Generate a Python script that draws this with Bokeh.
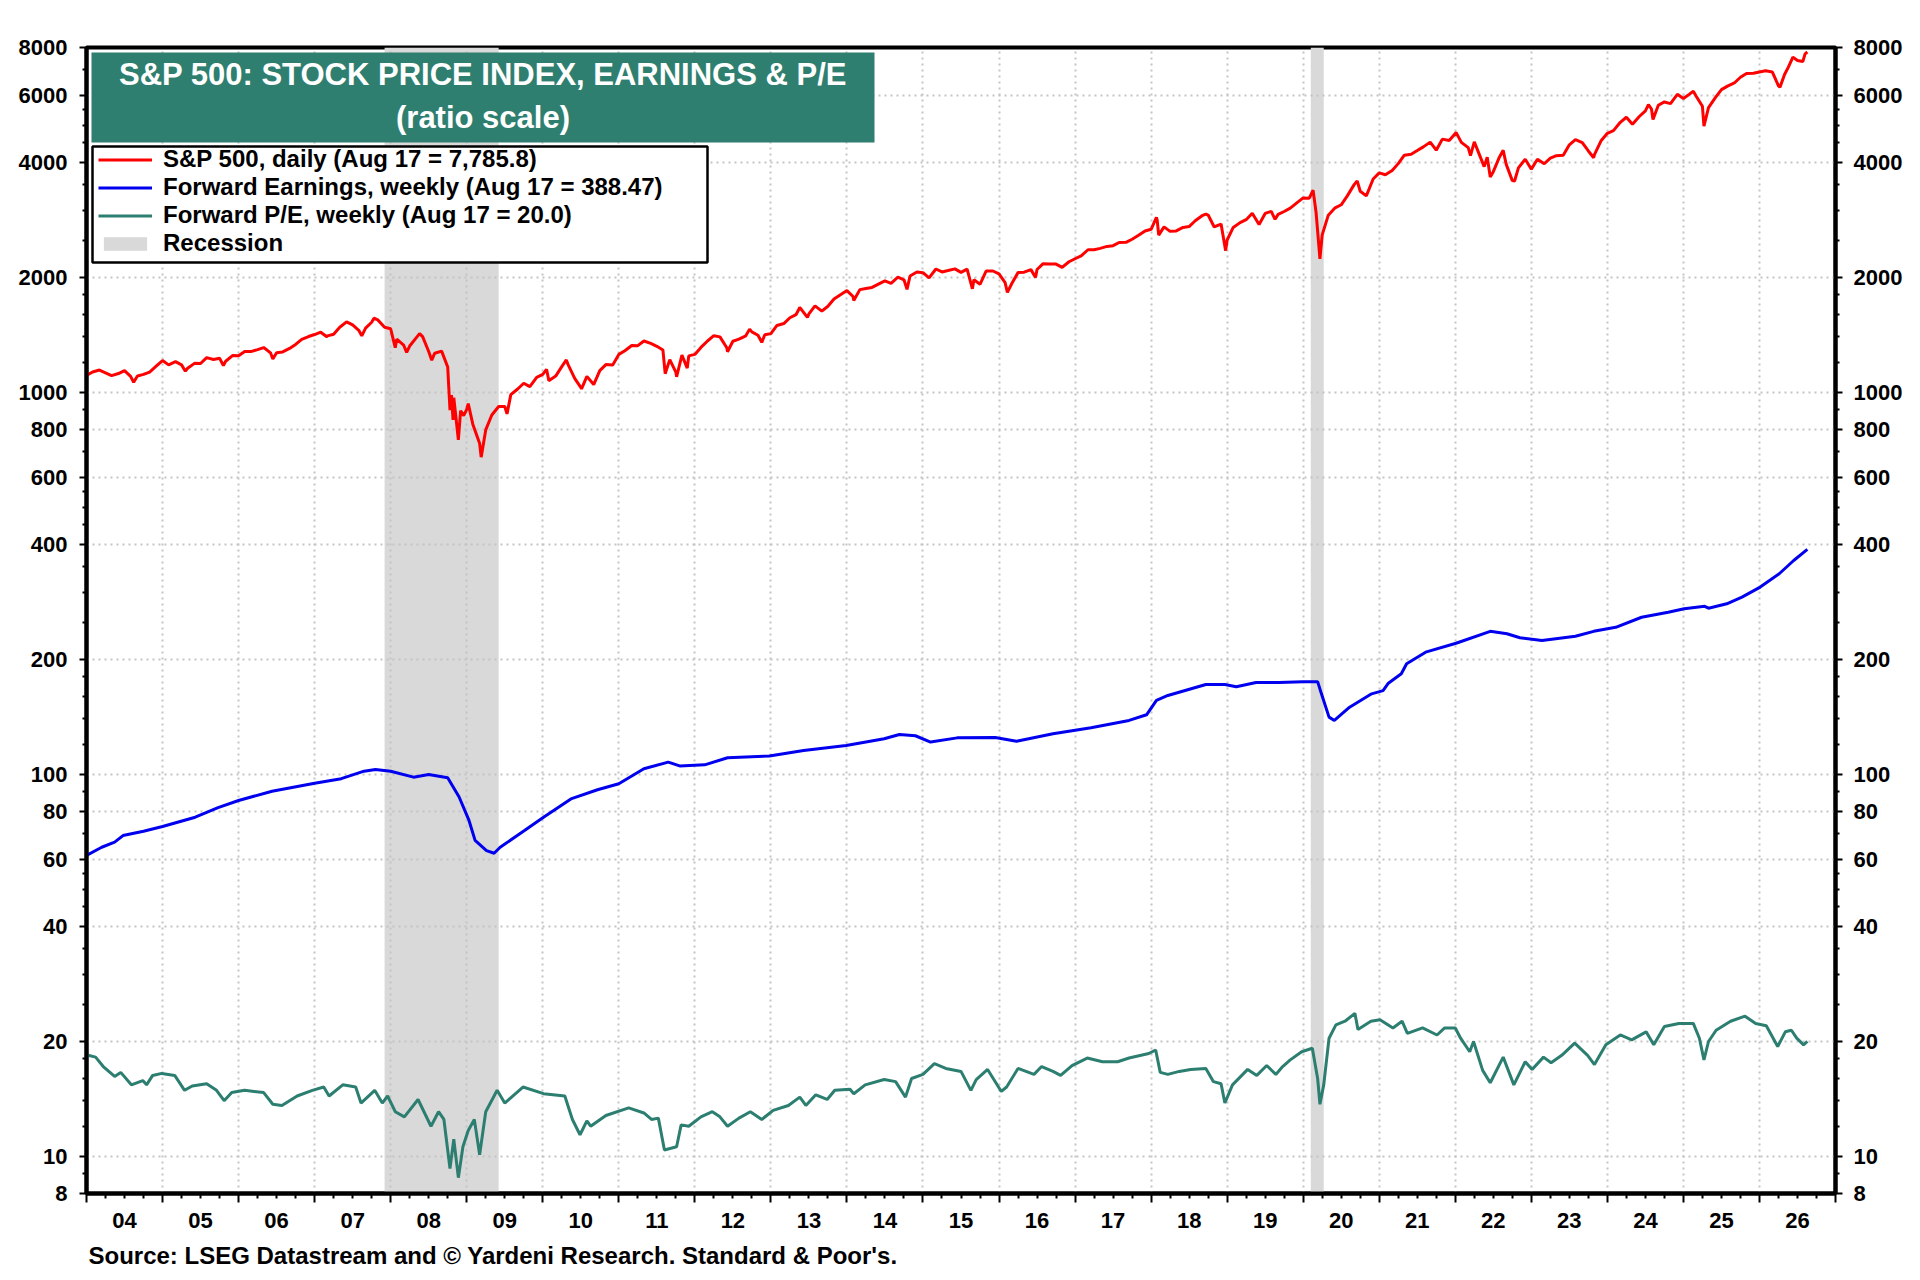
from bokeh.plotting import figure
from bokeh.models import (Range1d, FixedTicker, LogAxis, LinearAxis, Legend, LegendItem,
                          BoxAnnotation, Label, Title, NumeralTickFormatter)
from bokeh.embed import file_html
from bokeh.resources import INLINE

FONT = "Liberation Sans"

# ---------------- data (x = decimal year) ----------------
SPX_T = [2004.00, 2004.08, 2004.17, 2004.25, 2004.33, 2004.42, 2004.50, 2004.58, 2004.62, 2004.67,
         2004.75, 2004.83, 2004.92, 2005.00, 2005.08, 2005.17, 2005.25, 2005.30, 2005.33, 2005.42,
         2005.50, 2005.58, 2005.67, 2005.75, 2005.80, 2005.83, 2005.92, 2006.00, 2006.08, 2006.17,
         2006.25, 2006.33, 2006.42, 2006.45, 2006.50, 2006.58, 2006.67, 2006.75, 2006.83, 2006.92,
         2007.00, 2007.08, 2007.16, 2007.17, 2007.25, 2007.33, 2007.42, 2007.50, 2007.58, 2007.62,
         2007.67, 2007.75, 2007.78, 2007.83, 2007.92, 2008.00, 2008.06, 2008.08, 2008.17, 2008.21,
         2008.25, 2008.33, 2008.38, 2008.42, 2008.50, 2008.54, 2008.58, 2008.67, 2008.75, 2008.78,
         2008.80, 2008.82, 2008.83, 2008.89, 2008.92, 2008.96, 2009.00, 2009.02, 2009.08, 2009.17,
         2009.19, 2009.25, 2009.33, 2009.42, 2009.50, 2009.53, 2009.58, 2009.67, 2009.75, 2009.83,
         2009.92, 2010.00, 2010.05, 2010.08, 2010.17, 2010.25, 2010.31, 2010.33, 2010.42, 2010.50,
         2010.51, 2010.58, 2010.67, 2010.75, 2010.83, 2010.92, 2011.00, 2011.08, 2011.17, 2011.25,
         2011.33, 2011.42, 2011.50, 2011.58, 2011.61, 2011.67, 2011.75, 2011.76, 2011.83, 2011.90,
         2011.92, 2012.00, 2012.08, 2012.17, 2012.25, 2012.33, 2012.42, 2012.43, 2012.50, 2012.58,
         2012.67, 2012.72, 2012.75, 2012.83, 2012.88, 2012.92, 2013.00, 2013.08, 2013.17, 2013.25,
         2013.33, 2013.38, 2013.42, 2013.48, 2013.50, 2013.58, 2013.67, 2013.75, 2013.83, 2013.92,
         2014.00, 2014.08, 2014.09, 2014.17, 2014.25, 2014.33, 2014.42, 2014.50, 2014.58, 2014.67,
         2014.75, 2014.79, 2014.83, 2014.92, 2015.00, 2015.08, 2015.17, 2015.25, 2015.33, 2015.42,
         2015.50, 2015.58, 2015.65, 2015.67, 2015.75, 2015.83, 2015.92, 2016.00, 2016.08, 2016.11,
         2016.17, 2016.25, 2016.33, 2016.42, 2016.48, 2016.50, 2016.58, 2016.67, 2016.75, 2016.83,
         2016.92, 2017.00, 2017.08, 2017.17, 2017.25, 2017.33, 2017.42, 2017.50, 2017.58, 2017.67,
         2017.75, 2017.83, 2017.92, 2018.00, 2018.07, 2018.08, 2018.10, 2018.17, 2018.25, 2018.33,
         2018.42, 2018.50, 2018.58, 2018.67, 2018.72, 2018.75, 2018.83, 2018.92, 2018.98, 2019.00,
         2019.08, 2019.17, 2019.25, 2019.33, 2019.42, 2019.50, 2019.58, 2019.63, 2019.67, 2019.75,
         2019.83, 2019.92, 2020.00, 2020.08, 2020.13, 2020.17, 2020.22, 2020.25, 2020.33, 2020.42,
         2020.50, 2020.58, 2020.67, 2020.71, 2020.75, 2020.83, 2020.92, 2021.00, 2021.08, 2021.17,
         2021.25, 2021.33, 2021.42, 2021.50, 2021.58, 2021.67, 2021.75, 2021.83, 2021.92, 2022.00,
         2022.01, 2022.08, 2022.17, 2022.20, 2022.25, 2022.33, 2022.38, 2022.42, 2022.46, 2022.50,
         2022.58, 2022.63, 2022.67, 2022.75, 2022.78, 2022.83, 2022.92, 2023.00, 2023.08, 2023.17,
         2023.25, 2023.33, 2023.42, 2023.50, 2023.58, 2023.67, 2023.75, 2023.82, 2023.83, 2023.92,
         2024.00, 2024.08, 2024.17, 2024.25, 2024.33, 2024.42, 2024.50, 2024.54, 2024.58, 2024.60,
         2024.67, 2024.75, 2024.83, 2024.92, 2025.00, 2025.08, 2025.13, 2025.17, 2025.25, 2025.27,
         2025.33, 2025.42, 2025.50, 2025.58, 2025.67, 2025.75, 2025.83, 2025.92, 2026.00, 2026.08,
         2026.17, 2026.22, 2026.25, 2026.27, 2026.33, 2026.38, 2026.44, 2026.50, 2026.57, 2026.60,
         2026.63]
SPX_V = [1108, 1131, 1145, 1126, 1107, 1121, 1141, 1102, 1064, 1104,
         1115, 1131, 1174, 1212, 1181, 1204, 1181, 1137, 1157, 1192,
         1191, 1234, 1220, 1229, 1177, 1207, 1249, 1248, 1280, 1281,
         1295, 1311, 1270, 1224, 1270, 1277, 1304, 1336, 1378, 1401,
         1418, 1438, 1399, 1407, 1421, 1482, 1531, 1503, 1455, 1407,
         1474, 1527, 1565, 1549, 1481, 1468, 1310, 1379, 1331, 1273,
         1323, 1386, 1426, 1400, 1280, 1215, 1267, 1283, 1166, 899,
         985, 848, 969, 752, 896, 870, 903, 935, 826, 735,
         677, 798, 873, 919, 919, 879, 987, 1021, 1057, 1036,
         1096, 1115, 1150, 1074, 1104, 1169, 1217, 1187, 1089, 1031,
         1022, 1102, 1049, 1141, 1183, 1181, 1258, 1286, 1327, 1326,
         1364, 1345, 1321, 1292, 1120, 1219, 1131, 1099, 1253, 1158,
         1247, 1258, 1312, 1366, 1408, 1398, 1310, 1278, 1362, 1379,
         1407, 1465, 1441, 1412, 1353, 1416, 1426, 1498, 1515, 1569,
         1598, 1669, 1631, 1573, 1606, 1686, 1633, 1682, 1757, 1806,
         1848, 1783, 1741, 1859, 1872, 1884, 1924, 1960, 1931, 2003,
         1972, 1862, 2018, 2068, 2059, 1995, 2105, 2068, 2086, 2107,
         2063, 2104, 1868, 1972, 1920, 2079, 2080, 2044, 1940, 1829,
         1932, 2060, 2065, 2097, 2001, 2099, 2174, 2171, 2168, 2126,
         2199, 2239, 2279, 2364, 2363, 2384, 2412, 2423, 2470, 2472,
         2519, 2575, 2648, 2674, 2873, 2824, 2581, 2714, 2641, 2648,
         2705, 2718, 2816, 2902, 2931, 2914, 2712, 2760, 2351, 2507,
         2704, 2784, 2834, 2946, 2752, 2942, 2980, 2840, 2926, 2977,
         3038, 3141, 3231, 3226, 3386, 2954, 2237, 2585, 2912, 3044,
         3100, 3271, 3500, 3580, 3363, 3270, 3622, 3756, 3714, 3811,
         3973, 4181, 4204, 4298, 4395, 4523, 4308, 4605, 4567, 4766,
         4797, 4516, 4374, 4170, 4530, 4132, 3901, 4132, 3667, 3785,
         4130, 4305, 3955, 3586, 3577, 3872, 4080, 3840, 4077, 3970,
         4109, 4169, 4180, 4450, 4589, 4508, 4288, 4117, 4194, 4568,
         4770, 4846, 5096, 5254, 5036, 5278, 5460, 5667, 5522, 5186,
         5648, 5762, 5705, 6032, 5882, 6041, 6144, 5955, 5612, 4983,
         5569, 5912, 6205, 6339, 6460, 6688, 6840, 6850, 6900, 6950,
         6900, 6550, 6350, 6300, 6800, 7110, 7550, 7400, 7350, 7700,
         7786]

FE_T = [2004.00, 2004.20, 2004.37, 2004.48, 2004.75, 2005.00, 2005.43, 2005.73, 2006.00, 2006.44,
        2007.00, 2007.35, 2007.65, 2007.80, 2008.00, 2008.30, 2008.50, 2008.75, 2008.90, 2009.03,
        2009.11, 2009.26, 2009.36, 2009.44, 2009.76, 2010.01, 2010.37, 2010.72, 2011.00, 2011.33,
        2011.65, 2011.80, 2012.13, 2012.43, 2012.98, 2013.43, 2013.99, 2014.49, 2014.69, 2014.90,
        2015.10, 2015.45, 2015.95, 2016.23, 2016.71, 2017.21, 2017.71, 2017.94, 2018.07, 2018.22,
        2018.72, 2018.97, 2019.12, 2019.38, 2019.68, 2020.00, 2020.19, 2020.24, 2020.34, 2020.41,
        2020.61, 2020.90, 2021.05, 2021.12, 2021.29, 2021.36, 2021.61, 2022.01, 2022.46, 2022.68,
        2022.85, 2023.14, 2023.58, 2023.82, 2024.11, 2024.45, 2024.80, 2025.01, 2025.28, 2025.33,
        2025.57, 2025.77, 2026.01, 2026.26, 2026.45, 2026.63]
FE_V = [61.4, 64.5, 66.5, 69.2, 71.0, 73.1, 77.3, 81.9, 85.5, 90.4,
        94.9, 97.5, 102.0, 103.0, 102.0, 98.4, 100.0, 98.0, 87.3, 75.8,
        67.2, 63.2, 62.2, 64.5, 71.3, 77.3, 86.3, 91.2, 94.6, 103.5,
        107.7, 105.3, 106.0, 110.6, 111.8, 115.6, 119.1, 124.0, 127.2, 126.3,
        121.6, 124.7, 125.0, 122.2, 127.8, 132.5, 138.5, 143.3, 156.3, 161.0,
        172.0, 172.0, 169.7, 174.0, 174.0, 175.0, 175.0, 162.6, 141.3, 138.5,
        150.0, 162.6, 165.8, 173.4, 183.5, 195.0, 209.0, 220.6, 237.0, 233.6,
        228.0, 224.3, 230.0, 237.0, 242.8, 258.0, 265.9, 271.4, 275.6, 272.5,
        279.8, 291.2, 309.4, 335.3, 363.2, 388.47]

PE_T = [2004.02, 2004.12, 2004.22, 2004.37, 2004.45, 2004.59, 2004.74, 2004.79, 2004.87, 2004.99,
        2005.16, 2005.29, 2005.39, 2005.58, 2005.71, 2005.81, 2005.91, 2006.08, 2006.33, 2006.45,
        2006.57, 2006.77, 2006.97, 2007.12, 2007.19, 2007.37, 2007.54, 2007.61, 2007.79, 2007.89,
        2007.96, 2008.06, 2008.18, 2008.36, 2008.53, 2008.63, 2008.70, 2008.78, 2008.83, 2008.89,
        2008.95, 2009.02, 2009.10, 2009.17, 2009.25, 2009.40, 2009.50, 2009.74, 2010.01, 2010.29,
        2010.39, 2010.49, 2010.58, 2010.63, 2010.83, 2011.13, 2011.33, 2011.43, 2011.52, 2011.60,
        2011.76, 2011.82, 2011.92, 2012.08, 2012.23, 2012.33, 2012.43, 2012.58, 2012.73, 2012.88,
        2013.03, 2013.23, 2013.38, 2013.46, 2013.59, 2013.74, 2013.84, 2014.04, 2014.09, 2014.24,
        2014.49, 2014.64, 2014.77, 2014.85, 2015.00, 2015.15, 2015.30, 2015.50, 2015.63, 2015.70,
        2015.85, 2016.03, 2016.10, 2016.25, 2016.46, 2016.56, 2016.71, 2016.81, 2016.96, 2017.16,
        2017.36, 2017.56, 2017.71, 2017.97, 2018.06, 2018.12, 2018.22, 2018.37, 2018.52, 2018.72,
        2018.82, 2018.92, 2018.97, 2019.07, 2019.27, 2019.39, 2019.52, 2019.64, 2019.73, 2019.83,
        2019.98, 2020.12, 2020.19, 2020.22, 2020.27, 2020.34, 2020.43, 2020.55, 2020.68, 2020.72,
        2020.89, 2021.01, 2021.18, 2021.30, 2021.37, 2021.57, 2021.76, 2021.86, 2022.00, 2022.07,
        2022.19, 2022.24, 2022.36, 2022.46, 2022.63, 2022.77, 2022.92, 2023.01, 2023.16, 2023.26,
        2023.40, 2023.57, 2023.74, 2023.83, 2023.98, 2024.17, 2024.32, 2024.51, 2024.61, 2024.75,
        2024.94, 2025.13, 2025.21, 2025.27, 2025.33, 2025.43, 2025.62, 2025.81, 2025.95, 2026.09,
        2026.24, 2026.34, 2026.42, 2026.49, 2026.58, 2026.63]
PE_V = [18.4, 18.2, 17.2, 16.2, 16.6, 15.4, 15.8, 15.4, 16.3, 16.5,
        16.3, 14.9, 15.3, 15.5, 14.9, 14.0, 14.7, 14.9, 14.7, 13.7,
        13.6, 14.4, 14.9, 15.2, 14.4, 15.4, 15.2, 13.8, 14.9, 13.8,
        14.4, 13.1, 12.7, 14.1, 12.0, 13.1, 12.5, 9.3, 11.1, 8.8,
        10.6, 11.7, 12.5, 10.1, 13.1, 14.9, 13.8, 15.2, 14.6, 14.4,
        12.5, 11.4, 12.4, 12.0, 12.8, 13.4, 13.0, 12.5, 12.6, 10.4,
        10.6, 12.1, 12.0, 12.7, 13.1, 12.7, 12.0, 12.6, 13.1, 12.5,
        13.2, 13.6, 14.3, 13.6, 14.5, 14.1, 14.9, 15.0, 14.6, 15.4,
        15.9, 15.7, 14.3, 16.0, 16.4, 17.5, 17.0, 16.7, 14.9, 15.9,
        16.9, 14.8, 15.2, 17.0, 16.4, 17.2, 16.7, 16.3, 17.3, 18.1,
        17.7, 17.7, 18.1, 18.6, 19.0, 16.6, 16.4, 16.7, 16.9, 17.0,
        15.7, 15.5, 13.8, 15.4, 16.9, 16.3, 17.3, 16.4, 17.2, 17.9,
        18.8, 19.2, 16.0, 13.7, 15.4, 20.4, 22.1, 22.6, 23.7, 21.5,
        22.6, 22.8, 21.7, 22.6, 21.0, 21.7, 20.8, 21.7, 21.7, 20.4,
        18.8, 20.0, 16.8, 15.6, 18.2, 15.4, 17.7, 16.9, 18.2, 17.6,
        18.4, 19.8, 18.4, 17.4, 19.6, 20.8, 20.2, 21.2, 19.6, 21.9,
        22.3, 22.3, 20.4, 17.9, 20.0, 21.4, 22.6, 23.3, 22.3, 22.0,
        19.4, 21.2, 21.4, 20.4, 19.6, 20.0]

REC_START = [2007.92, 2020.10]
REC_END = [2009.42, 2020.27]

Y_TICKS = [8, 10, 20, 40, 60, 80, 100, 200, 400, 600, 800, 1000, 2000, 4000, 6000, 8000]
Y_MINOR = [9, 12, 14, 16, 18, 25, 30, 35, 45, 50, 55, 70, 90,
           120, 140, 160, 180, 250, 300, 350, 450, 500, 550, 700, 900,
           1200, 1400, 1600, 1800, 2500, 3000, 3500, 4500, 5000, 5500, 7000]
YEARS = list(range(2004, 2028))
YEAR_LABELS = ["04", "05", "06", "07", "08", "09", "10", "11", "12", "13", "14", "15",
               "16", "17", "18", "19", "20", "21", "22", "23", "24", "25", "26"]

TITLE_1 = "S&P 500: STOCK PRICE INDEX, EARNINGS & P/E"
TITLE_2 = "(ratio scale)"
LEG_SPX = "S&P 500, daily (Aug 17 = 7,785.8)"
LEG_FE = "Forward Earnings, weekly (Aug 17 = 388.47)"
LEG_PE = "Forward P/E, weekly (Aug 17 = 20.0)"
LEG_REC = "Recession"
SOURCE = "Source: LSEG Datastream and \u00a9 Yardeni Research. Standard & Poor's."

RED = "#ff0000"
BLUE = "#0000ee"
TEAL = "#2b7e70"
TITLE_BG = "#2f7f71"
REC_COLOR = "#d9d9d9"
GRID = "#c4c4c4"

# ---------------- figure ----------------
p = figure(width=1920, height=1280, x_range=Range1d(YEARS[0], YEARS[-1]),
           y_range=Range1d(Y_TICKS[0], Y_TICKS[-1]), y_axis_type="log",
           output_backend="svg", toolbar_location=None,
           min_border_left=86, min_border_right=85, min_border_top=47, min_border_bottom=87)
p.background_fill_color = "white"
p.border_fill_color = "white"
p.outline_line_color = "black"
p.outline_line_width = 4

y_ticker = FixedTicker(ticks=Y_TICKS, minor_ticks=Y_MINOR)
quarters = [y + q / 4 for y in YEARS[:-1] for q in (1, 2, 3)]
x_ticker = FixedTicker(ticks=YEARS, minor_ticks=quarters)
mids = [y + 0.5 for y in YEARS[:-1]]
x_label_ticker = FixedTicker(ticks=mids, minor_ticks=[])


def style_axis(ax):
    ax.axis_line_color = "black"
    ax.axis_line_width = 4
    ax.major_tick_line_color = "black"
    ax.major_tick_line_width = 2
    ax.minor_tick_line_color = "black"
    ax.minor_tick_line_width = 2
    ax.major_tick_in = 0
    ax.minor_tick_in = 0
    ax.major_label_text_font = FONT
    ax.major_label_text_font_style = "bold"
    ax.major_label_text_font_size = "22px"
    ax.major_label_text_color = "black"


yl = p.yaxis[0]
yl.ticker = y_ticker
yl.formatter = NumeralTickFormatter(format="0")
style_axis(yl)
yl.major_tick_out = 7
yl.minor_tick_out = 4
yl.major_label_standoff = 12

yr = LogAxis(ticker=y_ticker, formatter=NumeralTickFormatter(format="0"))
style_axis(yr)
yr.major_tick_out = 7
yr.minor_tick_out = 4
yr.major_label_standoff = 11
p.add_layout(yr, "right")

# year-boundary ticks (no labels)
xa = p.xaxis[0]
xa.ticker = x_ticker
style_axis(xa)
xa.major_tick_out = 9
xa.minor_tick_out = 5
xa.major_label_text_color = None
xa.major_label_standoff = 0

# year labels centred in each year
xb = LinearAxis(ticker=x_label_ticker,
                major_label_overrides=dict(zip(mids, YEAR_LABELS)))
style_axis(xb)
xb.axis_line_color = None
xb.major_tick_out = 0
xb.minor_tick_out = 0
xb.major_tick_line_color = None
xb.minor_tick_line_color = None
xb.major_label_standoff = 10
p.add_layout(xb, "below")

p.add_layout(Title(text=SOURCE, align="left", offset=2, standoff=18,
                   text_font=FONT, text_font_style="bold", text_font_size="24px",
                   text_color="black"), "below")

p.xgrid[0].ticker = x_ticker
p.ygrid[0].ticker = y_ticker
for g in (p.xgrid[0], p.ygrid[0]):
    g.grid_line_color = GRID
    g.grid_line_width = 2
    g.grid_line_dash = "2 4"

# ---------------- glyphs ----------------
r_rec = p.quad(left=REC_START, right=REC_END, bottom=Y_TICKS[0], top=Y_TICKS[-1],
               fill_color=REC_COLOR, line_color=None, level="image")
r_spx = p.line(SPX_T, SPX_V, line_color=RED, line_width=3)
r_fe = p.line(FE_T, FE_V, line_color=BLUE, line_width=3)
r_pe = p.line(PE_T, PE_V, line_color=TEAL, line_width=3)

# ---------------- title box ----------------
title_box = BoxAnnotation(left=5, right=788, top=1141, bottom=1051,
                          left_units="screen", right_units="screen",
                          top_units="screen", bottom_units="screen",
                          fill_color=TITLE_BG, fill_alpha=1.0, line_color=None)
p.add_layout(title_box)
for txt, yy in ((TITLE_1, 1119), (TITLE_2, 1076)):
    p.add_layout(Label(x=396.5, y=yy, x_units="screen", y_units="screen", text=txt,
                       text_align="center", text_baseline="middle", text_color="white",
                       text_font=FONT, text_font_style="bold", text_font_size="31px"))

# ---------------- legend ----------------
leg_box = BoxAnnotation(left=6, right=621, top=1047, bottom=931,
                        left_units="screen", right_units="screen",
                        top_units="screen", bottom_units="screen",
                        fill_color="white", fill_alpha=1.0,
                        line_color="black", line_width=2.5, line_alpha=1.0)
p.add_layout(leg_box)
legend = Legend(items=[LegendItem(label=LEG_SPX, renderers=[r_spx]),
                       LegendItem(label=LEG_FE, renderers=[r_fe]),
                       LegendItem(label=LEG_PE, renderers=[r_pe]),
                       LegendItem(label=LEG_REC, renderers=[r_rec])],
                location=(12, 936), padding=0, margin=0, spacing=-2,
                border_line_color=None, background_fill_alpha=0,
                glyph_width=54, glyph_height=17, label_standoff=11, label_height=20,
                label_text_font=FONT, label_text_font_style="bold",
                label_text_font_size="24px", label_text_color="black")
p.add_layout(legend)

open("out.html", "w").write(file_html(p, INLINE))
